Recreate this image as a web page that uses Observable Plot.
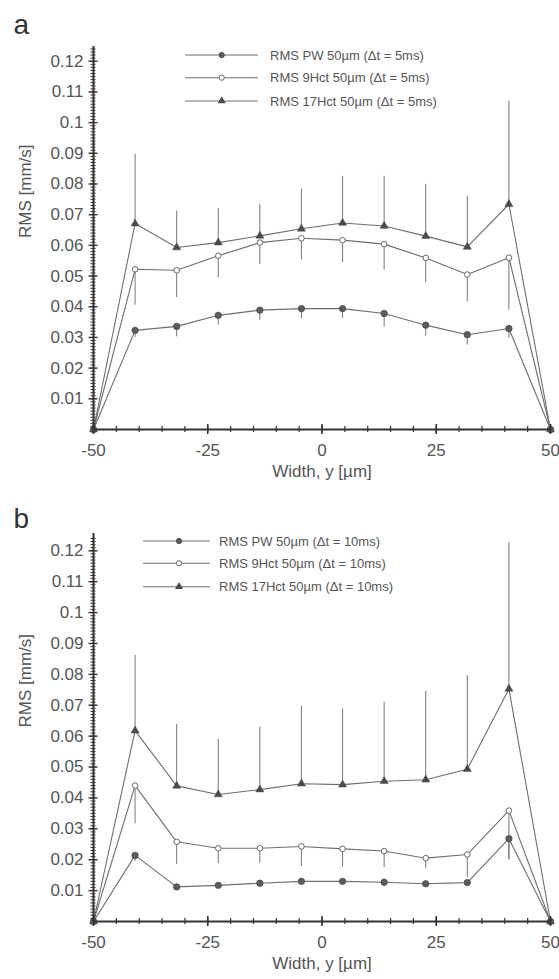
<!DOCTYPE html>
<html><head><meta charset="utf-8">
<script src="https://cdn.jsdelivr.net/npm/d3@7"></script>
<script src="https://cdn.jsdelivr.net/npm/@observablehq/plot@0.6"></script>
<style>
body{margin:0;background:#fff;}
#wrap{position:relative;width:559px;height:979px;}
#wrap svg{display:block;}
#legend{position:absolute;left:0;top:0;pointer-events:none;}
</style>
</head><body><div id="wrap"></div>
<script>
// Positions across the channel width (µm)
const widthPos = [-50, -40.9, -31.8, -22.7, -13.6, -4.5, 4.5, 13.6, 22.7, 31.8, 40.9, 50];

// Panel a (Δt = 5ms)
const pwA      = [0, 0.0323, 0.0336, 0.0372, 0.0389, 0.0394, 0.0394, 0.0378, 0.0340, 0.0309, 0.0329, 0];
const pwALow   = [0, 0.0300, 0.0302, 0.0340, 0.0356, 0.0360, 0.0362, 0.0334, 0.0304, 0.0275, 0.0297, 0];
const hct9A    = [0, 0.0522, 0.0519, 0.0566, 0.0609, 0.0623, 0.0617, 0.0604, 0.0559, 0.0505, 0.0560, 0];
const hct9ALow = [0, 0.0405, 0.0430, 0.0495, 0.0538, 0.0553, 0.0543, 0.0519, 0.0478, 0.0416, 0.0389, 0];
const hct17A   = [0, 0.0671, 0.0593, 0.0609, 0.0631, 0.0654, 0.0673, 0.0663, 0.0630, 0.0595, 0.0734, 0];
const hct17AHi = [0, 0.0897, 0.0712, 0.0720, 0.0734, 0.0783, 0.0825, 0.0825, 0.0799, 0.0760, 0.1070, 0];

// Panel b (Δt = 10ms)
const pwB      = [0, 0.0214, 0.0112, 0.0117, 0.0124, 0.0130, 0.0130, 0.0127, 0.0122, 0.0126, 0.0268, 0];
const pwBLow   = [0, 0.0195, 0.0112, 0.0117, 0.0124, 0.0130, 0.0130, 0.0127, 0.0122, 0.0126, 0.0200, 0];
const hct9B    = [0, 0.0440, 0.0258, 0.0237, 0.0237, 0.0243, 0.0235, 0.0228, 0.0205, 0.0217, 0.0359, 0];
const hct9BLow = [0, 0.0316, 0.0185, 0.0187, 0.0189, 0.0178, 0.0176, 0.0174, 0.0171, 0.0143, 0.0200, 0];
const hct17B   = [0, 0.0618, 0.0439, 0.0411, 0.0427, 0.0446, 0.0443, 0.0454, 0.0459, 0.0493, 0.0753, 0];
const hct17BHi = [0, 0.0861, 0.0638, 0.0589, 0.0629, 0.0696, 0.0688, 0.0710, 0.0745, 0.0796, 0.1227, 0];

// Ticks and labels
const yTicks = [0.01, 0.02, 0.03, 0.04, 0.05, 0.06, 0.07, 0.08, 0.09, 0.1, 0.11, 0.12];
const yTickLabels = ["0.01", "0.02", "0.03", "0.04", "0.05", "0.06", "0.07", "0.08", "0.09", "0.1", "0.11", "0.12"];
const yMinorTicks = d3.range(1, 125).map(i => i / 1000);
const xTicks = [-50, -25, 0, 25, 50];
const xTickLabels = ["-50", "-25", "0", "25", "50"];
const xMinorTicks = d3.range(-50, 51, 5);

const panelLabels = ["a", "b"];
const xTitle = "Width, y [µm]";
const yTitle = "RMS [mm/s]";
const legendA = ["RMS PW 50µm (Δt = 5ms)", "RMS 9Hct 50µm (Δt = 5ms)", "RMS 17Hct 50µm (Δt = 5ms)"];
const legendB = ["RMS PW 50µm (Δt = 10ms)", "RMS 9Hct 50µm (Δt = 10ms)", "RMS 17Hct 50µm (Δt = 10ms)"];

const FONT = "'Liberation Sans', Arial, sans-serif";
const LINE = "#6e6e6e";
const TXT = "#555";
const AX = "#333";

function panel(cfg) {
  const rows = widthPos.map((x, i) => ({
    x, pw: cfg.pw[i], pwLow: cfg.pwLow[i], h9: cfg.h9[i], h9Low: cfg.h9Low[i], h17: cfg.h17[i], h17Hi: cfg.h17Hi[i]
  }));
  const inner = rows.filter((d, i) => i > 0 && i < rows.length - 1);
  return Plot.plot({
    width: 559,
    height: cfg.height,
    marginLeft: 93,
    marginRight: 9,
    marginTop: cfg.mt,
    marginBottom: cfg.mb,
    x: {domain: [-50, 50]},
    y: {domain: [0, cfg.ytop]},
    style: {fontFamily: FONT, background: "white", color: TXT, overflow: "visible"},
    marks: [
      // error bars
      Plot.ruleX(inner, {x: "x", y1: "h17", y2: "h17Hi", stroke: "#777", strokeWidth: 1}),
      Plot.ruleX(inner, {x: "x", y1: "h9", y2: "h9Low", stroke: "#777", strokeWidth: 1}),
      Plot.ruleX(inner, {x: "x", y1: "pw", y2: "pwLow", stroke: "#777", strokeWidth: 1}),
      // lines
      Plot.line(rows, {x: "x", y: "h17", stroke: LINE, strokeWidth: 1.1}),
      Plot.line(rows, {x: "x", y: "h9", stroke: LINE, strokeWidth: 1.1}),
      Plot.line(rows, {x: "x", y: "pw", stroke: LINE, strokeWidth: 1.1}),
      // markers
      Plot.dot(rows, {x: "x", y: "h17", symbol: "triangle", r: 3, fill: "#4a4a4a", stroke: "#4a4a4a", strokeWidth: 0.5}),
      Plot.dot(rows, {x: "x", y: "h9", r: 2.8, fill: "white", stroke: "#666", strokeWidth: 1}),
      Plot.dot(rows, {x: "x", y: "pw", r: 3.2, fill: "#5c5c5c", stroke: "#4a4a4a", strokeWidth: 0.8}),
      // axis lines
      Plot.ruleX([-50], {stroke: AX, strokeWidth: 2}),
      Plot.ruleY([0], {stroke: AX, strokeWidth: 2}),
      // y ticks (crossing)
      Plot.axisY({ticks: yMinorTicks, tickSize: 5, dx: 2.5, tickFormat: () => "", stroke: AX, strokeWidth: 1, label: null}),
      Plot.axisY({ticks: yTicks, tickSize: 9, dx: 4.5, tickFormat: () => "", stroke: AX, strokeWidth: 1.4, label: null}),
      Plot.axisY({ticks: yTicks, tickSize: 0, tickPadding: 10, tickFormat: (d, i) => yTickLabels[i], fontSize: 17, fill: TXT, label: null}),
      // x ticks (crossing)
      Plot.axisX({ticks: xMinorTicks, tickSize: 6, dy: -3, tickFormat: () => "", stroke: AX, strokeWidth: 1.2, label: null}),
      Plot.axisX({ticks: xTicks, tickSize: 10, dy: -5, tickFormat: () => "", stroke: AX, strokeWidth: 1.6, label: null}),
      Plot.axisX({ticks: xTicks, tickSize: 0, tickPadding: 14, tickFormat: (d, i) => xTickLabels[i], fontSize: 17, fill: TXT, label: null}),
      // titles
      Plot.text([yTitle], {text: d => d, frameAnchor: "left", rotate: -90, dx: -68, fontSize: 17, fill: TXT}),
      Plot.text([xTitle], {text: d => d, frameAnchor: "bottom", dy: 47, fontSize: 17, fill: TXT}),
      Plot.text([cfg.label], {text: d => d, frameAnchor: "top-left", textAnchor: "start", lineAnchor: "bottom", dx: -80, dy: cfg.labelDy, fontSize: 28, fill: "#333"})
    ]
  });
}

const wrap = document.getElementById("wrap");
wrap.appendChild(panel({
  label: panelLabels[0], height: 490, mt: 46, mb: 61, ytop: 0.1248, labelDy: -13,
  pw: pwA, pwLow: pwALow, h9: hct9A, h9Low: hct9ALow, h17: hct17A, h17Hi: hct17AHi
}));
wrap.appendChild(panel({
  label: panelLabels[1], height: 489, mt: 43, mb: 58, ytop: 0.1256, labelDy: -6,
  pw: pwB, pwLow: pwBLow, h9: hct9B, h9Low: hct9BLow, h17: hct17B, h17Hi: hct17BHi
}));

// Legends (overlay)
const leg = d3.select(wrap).append("svg").attr("id", "legend").attr("width", 559).attr("height", 979)
  .style("font-family", FONT);
function drawLegend(labels, rowsY, x0, x1, xm, xt) {
  const styles = [
    {type: "circle", fill: "#5c5c5c", stroke: "#4a4a4a"},
    {type: "circle", fill: "white", stroke: "#666"},
    {type: "triangle", fill: "#4a4a4a", stroke: "#4a4a4a"}
  ];
  labels.forEach((t, i) => {
    const y = rowsY[i];
    leg.append("line").attr("x1", x0).attr("x2", x1).attr("y1", y).attr("y2", y)
      .attr("stroke", LINE).attr("stroke-width", 1.1);
    if (styles[i].type === "circle") {
      leg.append("circle").attr("cx", xm).attr("cy", y).attr("r", 2.6)
        .attr("fill", styles[i].fill).attr("stroke", styles[i].stroke);
    } else {
      leg.append("path").attr("d", d3.symbol(d3.symbolTriangle, 28)()).attr("transform", `translate(${xm},${y})`)
        .attr("fill", styles[i].fill);
    }
    leg.append("text").attr("x", xt).attr("y", y).attr("dy", "0.35em").attr("font-size", 13)
      .attr("fill", TXT).text(t);
  });
}
drawLegend(legendA, [55, 77.7, 101], 185, 258, 221.7, 270);
drawLegend(legendB, [541, 563.3, 586.7], 143, 210, 179, 219);
</script></body></html>
